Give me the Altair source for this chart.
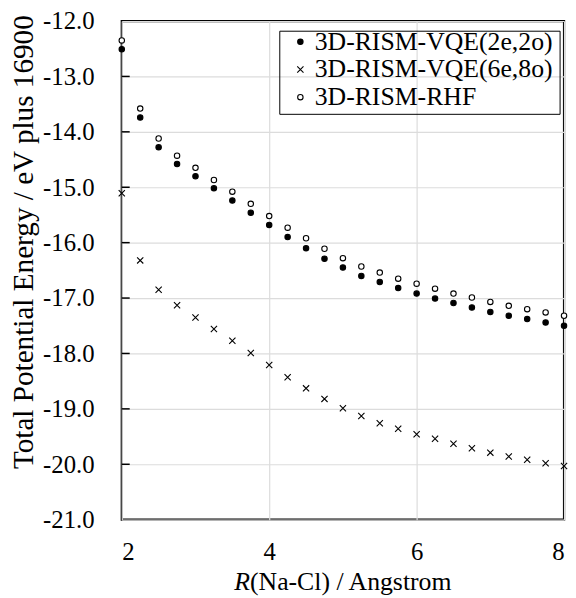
import altair as alt
import pandas as pd

# ---- data ----
r_values = [2.0, 2.25, 2.5, 2.75, 3.0, 3.25, 3.5, 3.75, 4.0, 4.25, 4.5, 4.75,
            5.0, 5.25, 5.5, 5.75, 6.0, 6.25, 6.5, 6.75, 7.0, 7.25, 7.5, 7.75, 8.0]
vqe_2e2o = [-12.51, -13.74, -14.28, -14.58, -14.80, -15.02, -15.24, -15.46, -15.68,
            -15.90, -16.10, -16.29, -16.45, -16.60, -16.71, -16.82, -16.92, -17.01,
            -17.09, -17.17, -17.25, -17.32, -17.38, -17.44, -17.50]
vqe_6e8o = [-15.11, -16.32, -16.85, -17.13, -17.35, -17.56, -17.77, -17.99, -18.21,
            -18.43, -18.63, -18.82, -18.99, -19.13, -19.26, -19.36, -19.46, -19.54,
            -19.63, -19.71, -19.79, -19.86, -19.92, -19.98, -20.03]
rhf = [-12.35, -13.58, -14.12, -14.43, -14.65, -14.87, -15.08, -15.30, -15.52,
       -15.73, -15.92, -16.11, -16.28, -16.43, -16.54, -16.65, -16.74, -16.83,
       -16.92, -16.99, -17.07, -17.14, -17.20, -17.26, -17.32]
series_names = ["3D-RISM-VQE(2e,2o)", "3D-RISM-VQE(6e,8o)", "3D-RISM-RHF"]
x_ticks = [2, 4, 6, 8]
y_ticks = [-21, -20, -19, -18, -17, -16, -15, -14, -13, -12]
y_inner_ticks = [-20, -19, -18, -17, -16, -15, -14, -13]

rows = []
for name, vals in zip(series_names, [vqe_2e2o, vqe_6e8o, rhf]):
    for r, e in zip(r_values, vals):
        rows.append({"R": r, "energy": e, "series": name})
df = pd.DataFrame(rows)

FONT = "Liberation Serif"
cross_path = "M-1.15,-1.15L1.15,1.15M-1.15,1.15L1.15,-1.15"

xscale = alt.Scale(domain=[2, 8], nice=False, zero=False)
yscale = alt.Scale(domain=[-21, -12], nice=False, zero=False)

leg = alt.Legend(title=None, orient="none", legendX=167.5, legendY=8, padding=0,
                 labelFont=FONT, labelFontSize=26, labelColor="black",
                 labelOffset=1.5, rowPadding=2, symbolStrokeColor="black",
                 symbolStrokeWidth=1.1, symbolSize=30, labelLimit=500)

points = alt.Chart(df).mark_point(size=30, strokeWidth=1.1, opacity=1).encode(
    x=alt.X("R:Q", scale=xscale,
            axis=alt.Axis(values=x_ticks, format="d", title=None, grid=True,
                          gridColor="#dcdcdc", gridWidth=1.2, ticks=False, domain=False,
                          labelFont=FONT, labelFontSize=25, labelColor="black",
                          labelPadding=20)),
    y=alt.Y("energy:Q", scale=yscale,
            axis=alt.Axis(values=y_ticks, grid=True, gridColor="#dcdcdc", gridWidth=1.2,
                          ticks=False, domain=False, labelFont=FONT, labelFontSize=25,
                          labelColor="black", labelPadding=28,
                          labelExpr="(datum.value < 0 ? '-' : '') + format(abs(datum.value), '.1f')",
                          title="Total Potential Energy / eV plus 16900",
                          titleFont=FONT, titleFontSize=29.5, titleFontWeight="normal",
                          titleColor="black", titleAngle=270, titleX=-90, titleY=223,
                          titleBaseline="alphabetic", titleAlign="center")),
    shape=alt.Shape("series:N", scale=alt.Scale(domain=series_names,
                    range=["circle", cross_path, "circle"]), legend=leg),
    fill=alt.Fill("series:N", scale=alt.Scale(domain=series_names,
                  range=["black", "transparent", "white"]), legend=leg),
    stroke=alt.Stroke("series:N", scale=alt.Scale(domain=series_names,
                      range=["black", "black", "black"]), legend=leg),
)

ticks_df = pd.DataFrame({"energy": y_inner_ticks})
inner_ticks = alt.Chart(ticks_df).mark_rule(color="black", strokeWidth=1.5).encode(
    y=alt.Y("energy:Q", scale=yscale),
    x=alt.value(0), x2=alt.value(8),
)

one = pd.DataFrame({"a": [0]})
legend_box = alt.Chart(one).mark_rect(fillOpacity=0, stroke="black", strokeWidth=1).encode(
    x=alt.value(159.7), x2=alt.value(443), y=alt.value(10.3), y2=alt.value(94.3)
)

title_r = alt.Chart(one).mark_text(text="R", font=FONT, fontSize=26, fontStyle="italic",
                                   align="left", baseline="alphabetic", color="black").encode(
    x=alt.value(113.7), y=alt.value(575))
title_rest = alt.Chart(one).mark_text(text="(Na-Cl) / Angstrom", font=FONT, fontSize=26,
                                      align="left", baseline="alphabetic", color="black").encode(
    x=alt.value(129.6), y=alt.value(575))

chart = alt.layer(inner_ticks, points, legend_box, title_r, title_rest).properties(
    width=447, height=504,
    autosize=alt.AutoSizeParams(type="none"),
    padding={"left": 115, "top": 10, "right": 4, "bottom": 76},
).configure_view(stroke="black", strokeWidth=2.25)

chart.save("out.html", embed_options={"renderer": "svg", "actions": False})
